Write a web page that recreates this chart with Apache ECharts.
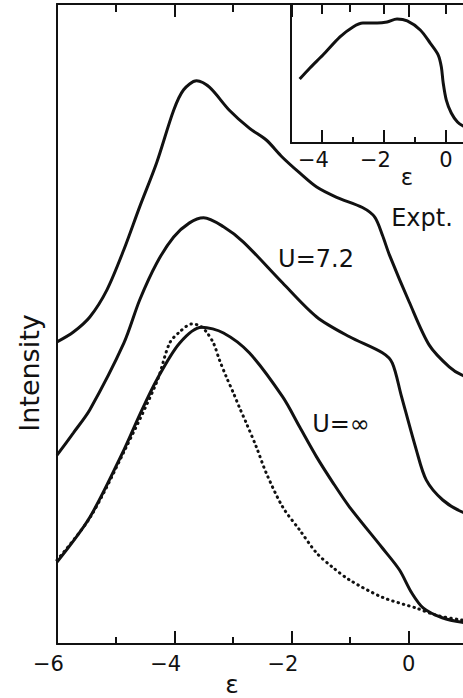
<!DOCTYPE html>
<html>
<head>
<meta charset="utf-8">
<script src="https://cdn.jsdelivr.net/npm/echarts@6/dist/echarts.min.js"></script>
<style>
  html, body { margin: 0; padding: 0; background: #fff; }
  #chart { width: 463px; height: 698px; }
</style>
</head>
<body>
<div id="chart"></div>
<script>
// Tick positions (in units of epsilon)
const mainTicks = [-6, -4, -2, 0];
const insetTicks = [-4, -2, 0];
const insetMinorTicks = [-3, -1];

// Calculated spectra, [epsilon, intensity (arb. units)]
const curveTop = [[-6, 47.2], [-5.72, 48.75], [-5.44, 51.1], [-5.15, 55.3], [-4.86, 61.6], [-4.59, 68.3], [-4.30, 75.2], [-4.01, 83.4], [-3.84, 86.6], [-3.62, 88.0], [-3.40, 87.0], [-3.06, 83.4], [-2.72, 80.6], [-2.43, 78.75], [-2.16, 76.1], [-1.86, 73.6], [-1.57, 71.4], [-1.23, 69.8], [-0.79, 68.2], [-0.58, 66.7], [-0.45, 63.9], [-0.33, 60.8], [0.01, 53.4], [0.35, 46.7], [0.69, 43.3], [0.91, 42.0], [1.3, 40.9]];
const curveU72 = [[-6, 29.5], [-5.72, 33.0], [-5.44, 36.6], [-4.86, 47.0], [-4.59, 53.75], [-4.30, 59.5], [-4.01, 63.6], [-3.74, 65.8], [-3.50, 66.6], [-3.16, 65.2], [-2.82, 62.8], [-2.15, 56.4], [-1.57, 51.1], [-1.01, 48.0], [-0.45, 45.5], [-0.28, 43.9], [-0.13, 38.9], [0.13, 30.3], [0.30, 25.6], [0.58, 22.5], [0.92, 20.6], [1.3, 19.8]];
const curveUinf = [[-6, 12.8], [-5.44, 19.8], [-4.86, 30.3], [-4.59, 35.8], [-4.30, 41.25], [-3.91, 47.0], [-3.53, 49.5], [-3.16, 48.6], [-2.72, 45.5], [-2.15, 38.6], [-1.86, 33.9], [-1.57, 29.2], [-1.30, 25.3], [-1.01, 21.4], [-0.45, 15.0], [-0.16, 11.6], [0.05, 8.0], [0.25, 5.6], [0.57, 4.1], [0.91, 3.4], [1.3, 3.1]];
const curveDotted = [[-6, 13.1], [-5.44, 19.7], [-4.86, 30.0], [-4.30, 40.9], [-4.08, 47.0], [-3.91, 48.75], [-3.70, 50.0], [-3.56, 49.7], [-3.45, 48.75], [-3.33, 47.0], [-3.23, 44.4], [-3.11, 41.7], [-2.99, 39.2], [-2.89, 37.0], [-2.77, 34.5], [-2.60, 30.8], [-2.43, 26.7], [-2.15, 21.4], [-1.86, 17.8], [-1.57, 14.2], [-1.30, 12.0], [-1.01, 10.0], [-0.45, 7.3], [0.13, 5.6], [0.47, 4.5], [0.91, 3.75], [1.3, 3.4]];

// Measured spectrum shown in the inset
const curveExpt = [[-4.72, 46.0], [-4.39, 54.0], [-3.97, 63.3], [-3.42, 76.3], [-3.00, 83.5], [-2.68, 86.3], [-2.22, 86.3], [-1.90, 87.1], [-1.58, 89.2], [-1.25, 87.8], [-0.83, 81.3], [-0.51, 71.9], [-0.25, 63.3], [-0.15, 54.7], [-0.09, 43.2], [0.01, 30.9], [0.17, 21.6], [0.37, 15.1], [0.56, 12.2], [0.95, 9.4]];

// Text drawn on the figure
const axisTitleX = 'ε';
const axisTitleY = 'Intensity';
const curveLabels = ['Expt.', 'U=7.2', 'U=∞'];

const INK = '#111';
const FONT = 'DejaVu Sans';

// Negative labels get a right pad as wide as the minus sign,
// so the digit itself sits on the tick.
function tickText(v) {
  return v < 0 ? '\u2212' + Math.abs(v) + '{p|\u00a0}' : String(v);
}

const line = { color: INK, width: 2 };

const chart = echarts.init(document.getElementById('chart'), null, { renderer: 'svg' });

chart.setOption({
  backgroundColor: '#fff',
  animation: false,
  grid: [
    { left: 57, top: 4, right: -63, bottom: 54, outerBoundsMode: 'none', containLabel: false },
    { left: 291, top: 4, right: -14, bottom: 555, outerBoundsMode: 'none', containLabel: false }
  ],
  xAxis: [
    {
      gridIndex: 0, type: 'value', position: 'bottom', min: -6, max: 2, interval: 2,
      axisLine: { onZero: false, lineStyle: line },
      axisTick: { inside: true, length: 13, lineStyle: line },
      minorTick: { show: true, splitNumber: 2, length: 7, lineStyle: line },
      splitLine: { show: false }, minorSplitLine: { show: false },
      axisLabel: {
        customValues: mainTicks, formatter: tickText, margin: 9,
        fontSize: 21, color: INK, fontFamily: FONT,
        rich: { p: { width: 17, fontSize: 21, fontFamily: FONT } }
      }
    },
    {
      gridIndex: 0, type: 'value', position: 'top', min: -6, max: 2, interval: 2,
      axisLine: { onZero: false, lineStyle: line },
      axisTick: { inside: true, length: 13, lineStyle: line },
      minorTick: { show: true, splitNumber: 2, length: 8, lineStyle: line },
      splitLine: { show: false }, minorSplitLine: { show: false },
      axisLabel: { show: false }
    },
    {
      gridIndex: 1, type: 'value', position: 'bottom', min: -5, max: 1,
      axisLine: { onZero: false, lineStyle: line },
      axisTick: { inside: true, length: 13, lineStyle: line, customValues: insetTicks },
      splitLine: { show: false },
      axisLabel: {
        customValues: insetTicks, formatter: tickText, margin: 6,
        fontSize: 21, color: INK, fontFamily: FONT,
        rich: { p: { width: 17, fontSize: 21, fontFamily: FONT } }
      }
    },
    {
      gridIndex: 1, type: 'value', position: 'bottom', min: -5, max: 1,
      axisLine: { show: false, onZero: false },
      axisTick: { inside: true, length: 6, lineStyle: line, customValues: insetMinorTicks },
      splitLine: { show: false },
      axisLabel: { show: false }
    },
    {
      gridIndex: 1, type: 'value', position: 'top', min: -5, max: 1,
      axisLine: { onZero: false, lineStyle: line },
      axisTick: { inside: true, length: 10, lineStyle: line, customValues: insetTicks },
      splitLine: { show: false },
      axisLabel: { show: false }
    }
  ],
  yAxis: [
    {
      gridIndex: 0, type: 'value', position: 'left', min: 0, max: 100,
      axisLine: { show: true, onZero: false, lineStyle: line },
      axisTick: { show: false }, axisLabel: { show: false }, splitLine: { show: false }
    },
    {
      gridIndex: 1, type: 'value', position: 'left', min: 0, max: 100,
      axisLine: { show: true, onZero: false, lineStyle: line },
      axisTick: { show: false }, axisLabel: { show: false }, splitLine: { show: false }
    }
  ],
  series: [
    { type: 'line', xAxisIndex: 0, yAxisIndex: 0, data: curveTop, smooth: 0.3, symbol: 'none', lineStyle: { color: INK, width: 3 } },
    { type: 'line', xAxisIndex: 0, yAxisIndex: 0, data: curveU72, smooth: 0.3, symbol: 'none', lineStyle: { color: INK, width: 3 } },
    { type: 'line', xAxisIndex: 0, yAxisIndex: 0, data: curveUinf, smooth: 0.3, symbol: 'none', lineStyle: { color: INK, width: 3 } },
    { type: 'line', xAxisIndex: 0, yAxisIndex: 0, data: curveDotted, smooth: 0.3, symbol: 'none', lineStyle: { color: INK, width: 3, type: [0.5, 5], cap: 'round' } },
    { type: 'line', xAxisIndex: 2, yAxisIndex: 1, data: curveExpt, smooth: 0.3, symbol: 'none', lineStyle: { color: INK, width: 3 } }
  ],
  graphic: [
    { type: 'text', x: 29, y: 373, rotation: Math.PI / 2, style: { text: axisTitleY, fill: INK, font: '27px "' + FONT + '"', textAlign: 'center', textVerticalAlign: 'middle' } },
    { type: 'text', x: 232, y: 684, style: { text: axisTitleX, fill: INK, font: '25px "' + FONT + '"', textAlign: 'center', textVerticalAlign: 'middle' } },
    { type: 'text', x: 407, y: 177, style: { text: axisTitleX, fill: INK, font: '23px "' + FONT + '"', textAlign: 'center', textVerticalAlign: 'middle' } },
    { type: 'text', x: 422, y: 218, style: { text: curveLabels[0], fill: INK, font: '24px "' + FONT + '"', textAlign: 'center', textVerticalAlign: 'middle' } },
    { type: 'text', x: 316, y: 259, style: { text: curveLabels[1], fill: INK, font: '24px "' + FONT + '"', textAlign: 'center', textVerticalAlign: 'middle' } },
    { type: 'text', x: 341, y: 424, style: { text: curveLabels[2], fill: INK, font: '24px "' + FONT + '"', textAlign: 'center', textVerticalAlign: 'middle' } }
  ]
});
</script>
</body>
</html>
